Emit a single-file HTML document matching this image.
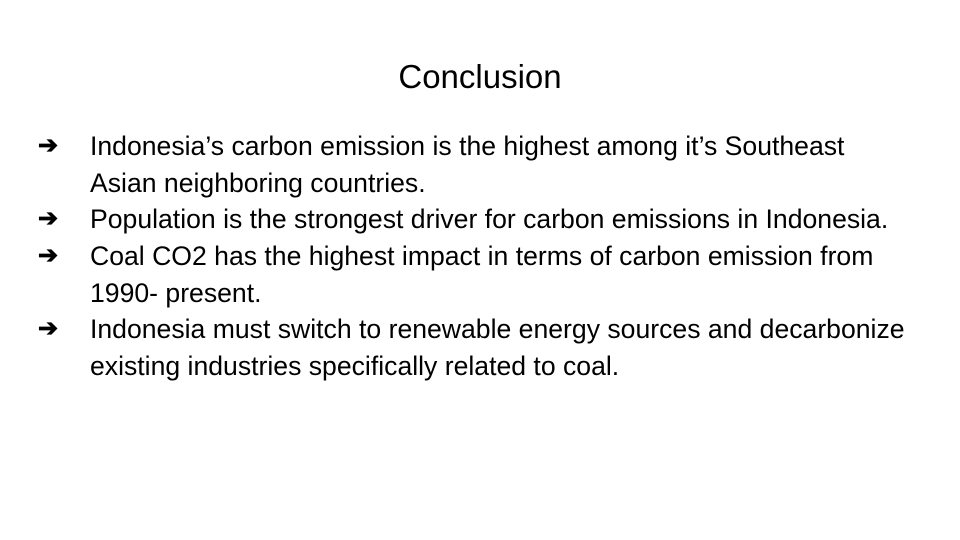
<!DOCTYPE html>
<html><head><meta charset="utf-8"><style>
html,body{margin:0;padding:0;width:960px;height:540px;background:#fff;overflow:hidden}
body{position:relative;font-family:"Liberation Sans",Arial,sans-serif;color:#000}
#title{position:absolute;left:0;width:960px;top:57px;text-align:center;font-size:33px;line-height:40px}
#title span{display:inline-block}
.line{position:absolute;left:90px;font-size:26.6px;line-height:30px;white-space:nowrap}
.arrow{position:absolute;left:38px;font-size:24px;font-weight:bold;line-height:30px}
</style></head><body>
<div id="title"><span>Conclusion</span></div>
<div>
<div class="arrow" style="top:131px">➔</div>
<div class="line" style="top:131px">Indonesia’s carbon emission is the highest among it’s Southeast</div>
<div class="line" style="top:168px">Asian neighboring countries.</div>
<div class="arrow" style="top:204px">➔</div>
<div class="line" style="top:204px">Population is the strongest driver for carbon emissions in Indonesia.</div>
<div class="arrow" style="top:241px">➔</div>
<div class="line" style="top:241px">Coal CO2 has the highest impact in terms of carbon emission from</div>
<div class="line" style="top:278px">1990- present.</div>
<div class="arrow" style="top:314px">➔</div>
<div class="line" style="top:314px">Indonesia must switch to renewable energy sources and decarbonize</div>
<div class="line" style="top:351px">existing industries specifically related to coal.</div>
</div>
</body></html>
